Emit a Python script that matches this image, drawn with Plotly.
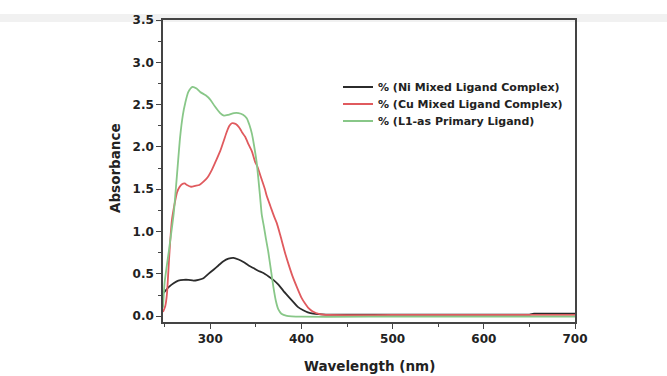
import plotly.graph_objects as go

# ---- data ----
ni_x = [248.2, 250.7, 255, 259.8, 265, 270.7, 276, 281.7, 287, 292.6, 298, 303.6, 309, 314.5, 320, 325.4,
        331, 336.4, 342, 347.3, 352, 358.3, 364, 369.2, 375, 380.2, 386, 391, 396, 402, 407, 413, 427,
        500, 600, 650, 655, 700]
ni_y = [0.27, 0.30, 0.35, 0.39, 0.42, 0.43, 0.43, 0.42, 0.43, 0.45, 0.50, 0.55, 0.60, 0.65, 0.68, 0.69,
        0.67, 0.64, 0.60, 0.57, 0.54, 0.51, 0.47, 0.43, 0.37, 0.30, 0.23, 0.17, 0.11, 0.07, 0.045, 0.03, 0.02,
        0.02, 0.02, 0.02, 0.03, 0.03]

cu_x = [248.2, 250.7, 252.5, 255, 258, 263.5, 266, 269, 272, 274.5, 279, 283.5, 288, 292.6, 297, 301.8,
        306, 310.9, 315, 318.2, 321, 323.7, 326, 328, 331, 333, 335, 338.3, 342, 345.6, 349, 352, 356,
        360, 362, 366, 370, 373, 377, 382, 386, 390, 394.8, 400, 404, 407.5, 412, 420, 430, 500, 600, 700]
cu_y = [0.05, 0.12, 0.26, 0.70, 1.14, 1.46, 1.52, 1.56, 1.57, 1.55, 1.53, 1.54, 1.55, 1.59, 1.64, 1.73,
        1.83, 1.95, 2.08, 2.18, 2.25, 2.28, 2.28, 2.27, 2.24, 2.21, 2.17, 2.12, 2.03, 1.95, 1.83, 1.76, 1.63,
        1.50, 1.42, 1.30, 1.18, 1.10, 0.95, 0.75, 0.61, 0.48, 0.35, 0.22, 0.15, 0.10, 0.06, 0.025, 0.015,
        0.015, 0.015, 0.015]

l1_x = [248.2, 250, 255, 260, 263, 267, 270, 272.6, 276, 280.6, 285, 289, 295, 300, 305, 310.9, 315, 320,
        326, 331, 336, 340, 343, 345.6, 348, 351, 354.6, 356.5, 359, 361, 363.8, 366.5, 369.2, 372, 374.7,
        378, 384, 400, 500, 600, 700]
l1_y = [0.10, 0.40, 0.80, 1.22, 1.60, 2.12, 2.38, 2.52, 2.65, 2.71, 2.69, 2.65, 2.61, 2.56, 2.48, 2.40,
        2.37, 2.38, 2.40, 2.40, 2.38, 2.34, 2.26, 2.16, 2.02, 1.81, 1.42, 1.20, 1.05, 0.92, 0.75, 0.55, 0.35,
        0.18, 0.08, 0.03, 0.005, -0.005, -0.005, -0.005, -0.005]

names = ["% (Ni Mixed Ligand Complex)", "% (Cu Mixed Ligand Complex)", "% (L1-as Primary Ligand)"]
colors = ["#2b2b2b", "#e05a5e", "#88c788"]

x_ticks = [300, 400, 500, 600, 700]
y_ticks = [0.0, 0.5, 1.0, 1.5, 2.0, 2.5, 3.0, 3.5]
x_title = "Wavelength (nm)"
y_title = "Absorbance"

FONT = "DejaVu Sans"

fig = go.Figure()
series = [(ni_x, ni_y), (cu_x, cu_y), (l1_x, l1_y)]
legends = ["legend", "legend2", "legend3"]
for (xs, ys), nm, c, lg in zip(series, names, colors, legends):
    fig.add_trace(go.Scatter(x=xs, y=ys, mode="lines", name=nm, legend=lg,
                             line=dict(color=c, width=1.8, shape="spline", smoothing=0.6)))

# plot area geometry (px)
L, R, T, B = 163, 575, 20, 322
W, H = 667, 376

def lx(px):
    return (px - L) / (R - L)

def ly(py):
    return (B - py) / (B - T)

leg_common = dict(font=dict(family=FONT, size=11, color="#222", weight="bold"), bgcolor="rgba(0,0,0,0)",
                  borderwidth=0, xanchor="left", yanchor="middle", itemwidth=30)
tickfont = dict(family=FONT, size=12, color="#222", weight="bold")
fig.update_layout(
    width=W, height=H,
    margin=dict(l=L, r=W - R, t=T, b=H - B, autoexpand=False),
    paper_bgcolor="white", plot_bgcolor="white",
    font=dict(family=FONT, color="#222"),
    showlegend=True,
    legend=dict(x=lx(338), y=ly(87), **leg_common),
    legend2=dict(x=lx(338), y=ly(104), **leg_common),
    legend3=dict(x=lx(338), y=ly(121), **leg_common),
    xaxis=dict(range=[248.2, 700], tickvals=x_ticks, ticktext=[str(v) for v in x_ticks],
               ticks="outside", ticklen=5, tickwidth=1.3, tickcolor="#444",
               showline=True, linecolor="#444", linewidth=1.5, mirror=True,
               showgrid=False, zeroline=False, tickfont=tickfont, automargin=False,
               minor=dict(dtick=50, tick0=250, ticks="outside", ticklen=3, tickcolor="#444", tickwidth=1.2)),
    yaxis=dict(range=[-0.068, 3.5], tickvals=y_ticks, ticktext=[f"{v:.1f}" for v in y_ticks],
               ticks="outside", ticklen=5, tickwidth=1.3, tickcolor="#444",
               showline=True, linecolor="#444", linewidth=1.5, mirror=True,
               showgrid=False, zeroline=False, tickfont=tickfont, automargin=False,
               minor=dict(dtick=0.25, tick0=0, ticks="outside", ticklen=3, tickcolor="#444", tickwidth=1.2)),
)

title_font = dict(family=FONT, size=13.5, color="#222", weight="bold")
fig.add_annotation(text=x_title, xref="paper", yref="paper", x=lx(369), y=ly(366),
                   xanchor="center", yanchor="middle", showarrow=False, font=title_font)
fig.add_annotation(text=y_title, xref="paper", yref="paper", x=lx(115), y=ly(168),
                   xanchor="center", yanchor="middle", showarrow=False, textangle=-90, font=title_font)

# faint grey band at the very top of the picture
fig.add_shape(type="rect", xref="paper", yref="paper", x0=-L / (R - L), x1=(W - L) / (R - L),
              y0=ly(22), y1=ly(14), fillcolor="#f1f1f1", line_width=0, layer="below")

fig.write_html("out.html", config={"displayModeBar": False},
               post_script="document.body.style.margin='0px';")
